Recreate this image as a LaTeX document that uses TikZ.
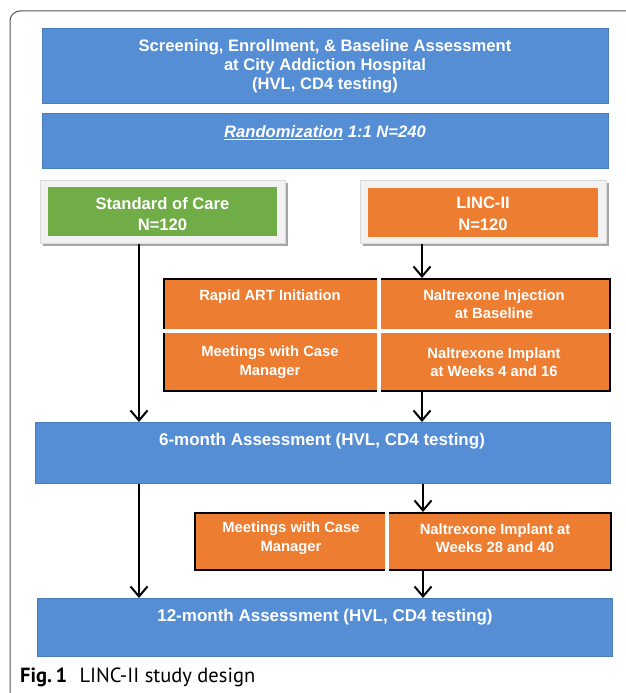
\documentclass[tikz,border=0pt]{standalone}
\usepackage{fontspec}
\setmainfont{Liberation Sans}
\newfontfamily\capfont{PT Sans}
\usetikzlibrary{arrows.meta,calc}
\definecolor{boxblue}{HTML}{558ED5}
\definecolor{boxblueline}{HTML}{4A7EBB}
\definecolor{boxgreen}{HTML}{70AD47}
\definecolor{boxorange}{HTML}{ED7D31}
\definecolor{panelgray}{HTML}{F2F2F2}
\definecolor{panelline}{HTML}{D9D9D9}
\definecolor{shadowgray}{HTML}{A6A6A6}
\definecolor{framegray}{HTML}{555555}
\tikzset{
  bluebox/.style={draw=boxblueline, line width=1pt, fill=boxblue, inner sep=0pt, anchor=north west},
  panel/.style={draw=panelline, line width=0.6pt, fill=panelgray, inner sep=0pt, anchor=north west},
  armbox/.style={inner sep=0pt, anchor=north west},
  orangeblock/.style={draw=black, line width=1.6pt, fill=boxorange, inner sep=0pt, anchor=north west},
  bigtext/.style={text=white, font=\bfseries\fontsize{16.6}{19}\selectfont, align=center, inner sep=0pt},
  armtext/.style={text=white, font=\bfseries\fontsize{16.6}{21.5}\selectfont, align=center, inner sep=0pt},
  smalltext/.style={text=white, font=\bfseries\fontsize{14.8}{18.5}\selectfont, align=center, inner sep=0pt},
  divider/.style={draw=white, line width=3.2pt},
  arr/.style={draw=black, line width=2.2pt, -{Straight Barb[length=10pt,width=17pt,line width=2pt]}},
  framestyle/.style={draw=framegray, line width=1pt, rounded corners=10pt}
}
\begin{document}
\begin{tikzpicture}[x=1pt,y=-1pt]
\useasboundingbox (0,0) rectangle (625,693);
\fill[white] (0,0) rectangle (625,693);
% outer frame
\draw[framestyle] (626,11) -- (10,11) -- (10,694);

% coordinates for arrow columns
\coordinate (lx) at (139,0);
\coordinate (rx) at (422,0);
\coordinate (rx2) at (423,0);

% screening
\node[bluebox, minimum width=566pt, minimum height=75pt] (scr) at (42,28) {};
\node[bigtext] (scrtxt) at (325,66) {Screening, Enrollment, \& Baseline Assessment\\at City Addiction Hospital\\(HVL, CD4 testing)};

% randomization
\node[bluebox, minimum width=566pt, minimum height=55pt] (rand) at (42,113) {};
\node[bigtext] (randtxt) at (325,133) {\itshape\underline{Randomization} 1:1 N=240};

% arms
\fill[shadowgray] (43,183) rectangle (288,246);
\node[panel, minimum width=245pt, minimum height=63pt] (socp) at (40,180) {};
\node[armbox, fill=boxgreen, minimum width=229pt, minimum height=49pt] (soc) at (48,187) {};
\node[armtext] (soctxt) at (162.5,214) {Standard of Care\\N=120};

\fill[shadowgray] (363,183) rectangle (609,246);
\node[panel, minimum width=246pt, minimum height=63pt] (lincp) at (360,180) {};
\node[armbox, fill=boxorange, minimum width=230pt, minimum height=49pt] (linc) at (368,188) {};
\node[armtext] (linctxt) at (483,214) {LINC-II\\N=120};

% intervention block 1
\node[orangeblock, minimum width=446pt, minimum height=112pt] (o1) at (163,278) {};
\draw[divider] (o1.north -| 379,0) -- (o1.south -| 379,0);
\draw[divider] (o1.west |- 0,331) -- (o1.east |- 0,331);
\node[smalltext] (o1a) at (270,297) {Rapid ART Initiation};
\node[smalltext] (o1b) at (494,304) {Naltrexone Injection\\at Baseline};
\node[smalltext] (o1c) at (270,362) {Meetings with Case\\Manager};
\node[smalltext] (o1d) at (494,362) {Naltrexone Implant\\at Weeks 4 and 16};

% 6-month
\node[bluebox, minimum width=575pt, minimum height=61pt] (m6) at (35,422) {};
\node[bigtext, font=\bfseries\fontsize{17}{19}\selectfont] (m6txt) at (322,441) {6-month Assessment (HVL, CD4 testing)};

% intervention block 2
\node[orangeblock, minimum width=416pt, minimum height=57pt] (o2) at (194,512) {};
\draw[divider] (o2.north -| 387,0) -- (o2.south -| 387,0);
\node[smalltext] (o2a) at (291,538) {Meetings with Case\\Manager};
\node[smalltext] (o2b) at (495,538) {Naltrexone Implant at\\Weeks 28 and 40};

% 12-month
\node[bluebox, minimum width=575pt, minimum height=58pt] (m12) at (37,598) {};
\node[bigtext, font=\bfseries\fontsize{17}{19}\selectfont] (m12txt) at (325,617) {12-month Assessment (HVL, CD4 testing)};

% arrows
\draw[arr] (socp.south -| lx) -- (m6.north -| lx);
\draw[arr] (m6.south -| lx) -- (m12.north -| lx);
\draw[arr] (lincp.south -| rx) -- (o1.north -| rx);
\draw[arr] (o1.south -| rx) -- (m6.north -| rx);
\draw[arr] (m6.south -| rx2) -- (o2.north -| rx2);
\draw[arr] (o2.south -| rx2) -- (m12.north -| rx2);

% caption
\node[anchor=west, inner sep=0pt, font=\capfont\fontsize{20.5}{23}\selectfont] (cap) at (20,677) {\textbf{Fig.\,1}\hspace{0.6em}LINC-II study design};
\end{tikzpicture}
\end{document}
